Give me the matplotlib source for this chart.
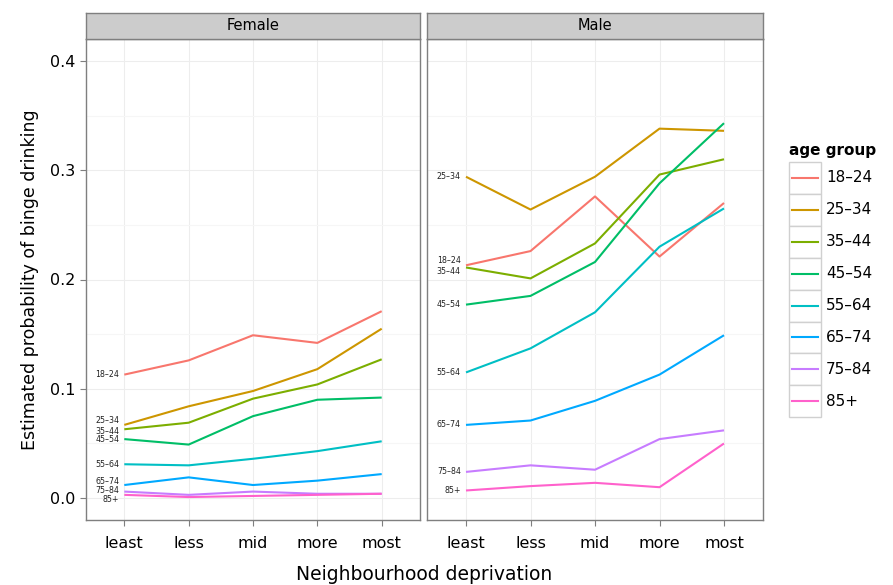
import matplotlib
matplotlib.use("Agg")
import matplotlib.pyplot as plt
from matplotlib.patches import Rectangle
from matplotlib.lines import Line2D
import numpy as np

categories = ["least", "less", "mid", "more", "most"]
age_groups = ["18\u201324", "25\u201334", "35\u201344", "45\u201354", "55\u201364", "65\u201374", "75\u201384", "85+"]
colors = ["#F8766D", "#CD9600", "#7CAE00", "#00BE67", "#00BFC4", "#00A9FF", "#C77CFF", "#FF61CC"]

female_18_24 = [0.113, 0.126, 0.149, 0.142, 0.171]
female_25_34 = [0.067, 0.084, 0.098, 0.118, 0.155]
female_35_44 = [0.063, 0.069, 0.091, 0.104, 0.127]
female_45_54 = [0.054, 0.049, 0.075, 0.090, 0.092]
female_55_64 = [0.031, 0.030, 0.036, 0.043, 0.052]
female_65_74 = [0.012, 0.019, 0.012, 0.016, 0.022]
female_75_84 = [0.006, 0.003, 0.006, 0.004, 0.004]
female_85p = [0.003, 0.001, 0.002, 0.003, 0.004]

male_18_24 = [0.213, 0.226, 0.276, 0.221, 0.270]
male_25_34 = [0.294, 0.264, 0.294, 0.338, 0.336]
male_35_44 = [0.211, 0.201, 0.233, 0.296, 0.310]
male_45_54 = [0.177, 0.185, 0.216, 0.288, 0.343]
male_55_64 = [0.115, 0.137, 0.170, 0.230, 0.265]
male_65_74 = [0.067, 0.071, 0.089, 0.113, 0.149]
male_75_84 = [0.024, 0.030, 0.026, 0.054, 0.062]
male_85p = [0.007, 0.011, 0.014, 0.010, 0.050]

female = [female_18_24, female_25_34, female_35_44, female_45_54,
          female_55_64, female_65_74, female_75_84, female_85p]
male = [male_18_24, male_25_34, male_35_44, male_45_54,
        male_55_64, male_65_74, male_75_84, male_85p]

# label nudges (in data units) to avoid overlaps, like directlabels
female_nudge = [0, 0.004, -0.002, 0, 0, 0.003, 0.001, -0.004]
male_nudge = [0.004, 0, -0.004, 0, 0, 0, 0, 0]

W, H = 893, 585
fig = plt.figure(figsize=(W / 100, H / 100), dpi=100)
plt.rcParams['font.family'] = ['DejaVu Sans']

top, bottom = 39, 520
panels = [("Female", 85.7, 420.3, female, female_nudge),
          ("Male", 427.3, 762.7, male, male_nudge)]

border = "#7F7F7F"
for i, (title, x0, x1, data, nudge) in enumerate(panels):
    ax = fig.add_axes([x0 / W, 1 - bottom / H, (x1 - x0) / W, (bottom - top) / H])
    x = np.arange(len(categories))
    for vals, col in zip(data, colors):
        ax.plot(x, vals, color=col, lw=1.5, solid_capstyle='butt', zorder=3)
    for vals, lab, dn in zip(data, age_groups, nudge):
        ax.text(-0.08, vals[0] + dn, lab, fontsize=5.7, ha='right', va='center',
                color='#222222', zorder=4)
    ax.set_xlim(-0.6, 4.6)
    ax.set_ylim(-0.02, 0.42)
    ax.set_xticks(x)
    ax.set_xticklabels(categories, fontsize=11.5)
    ax.set_yticks([0.0, 0.1, 0.2, 0.3, 0.4])
    ax.set_yticks([0.05, 0.15, 0.25, 0.35], minor=True)
    ax.set_yticklabels(["0.0", "0.1", "0.2", "0.3", "0.4"], fontsize=11.5)
    ax.grid(True, which='major', color='#EDEDED', lw=0.8, zorder=0)
    ax.grid(True, which='minor', axis='y', color='#F6F6F6', lw=0.8, zorder=0)
    ax.set_axisbelow(True)
    ax.tick_params(axis='both', which='major', color=border, length=4.5, width=0.8,
                   labelcolor='black', pad=3)
    ax.tick_params(axis='x', which='major', pad=7)
    ax.tick_params(axis='y', which='minor', length=0)
    if i == 1:
        ax.tick_params(axis='y', which='major', length=0, labelleft=False)
    for s in ax.spines.values():
        s.set_color(border)
        s.set_linewidth(1.0)
    # strip
    sax = fig.add_axes([x0 / W, 1 - top / H, (x1 - x0) / W, 26 / H])
    sax.set_xticks([])
    sax.set_yticks([])
    sax.set_facecolor("#CCCCCC")
    for s in sax.spines.values():
        s.set_color(border)
        s.set_linewidth(1.0)
    sax.text(0.5, 0.5, title, ha='center', va='center', fontsize=10.5,
             transform=sax.transAxes)

fig.text(424 / W, 1 - 574 / H, "Neighbourhood deprivation", ha='center', va='center',
         fontsize=13.5)
fig.text(30 / W, 1 - 280 / H, "Estimated probability of binge drinking", ha='center',
         va='center', rotation=90, fontsize=12.5)

# legend
lax = fig.add_axes([0, 0, 1, 1])
lax.set_xlim(0, W)
lax.set_ylim(H, 0)
lax.axis('off')
lax.text(789, 151, "age group", fontsize=11, fontweight='bold', ha='left', va='center')
k0, ks = 162, 31.9
for j, (lab, col) in enumerate(zip(age_groups, colors)):
    yt = k0 + j * ks
    lax.add_patch(Rectangle((789, yt), 32, ks, facecolor='white', edgecolor='#D0D0D0', lw=1))
    lax.add_line(Line2D([792, 818], [yt + ks / 2, yt + ks / 2], color=col, lw=1.5))
    lax.text(826, yt + ks / 2, lab, fontsize=11, ha='left', va='center')

fig.savefig("out.png", dpi=100)
